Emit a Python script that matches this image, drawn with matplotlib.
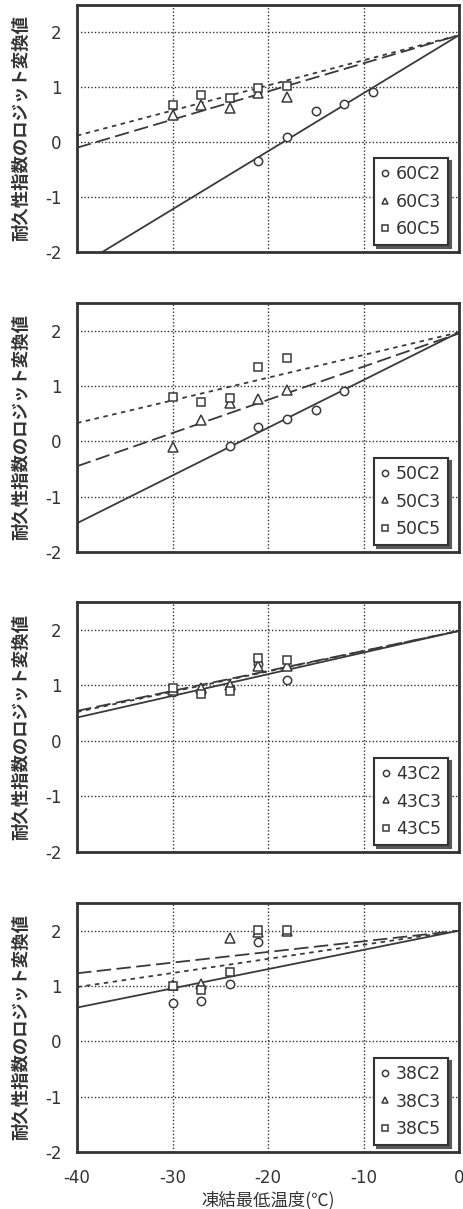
import numpy as np
import matplotlib
matplotlib.use("Agg")
import matplotlib.pyplot as plt

plt.rcParams['font.family'] = ['Noto Sans CJK JP', 'DejaVu Sans']
plt.rcParams['axes.unicode_minus'] = False

# panel order: top to bottom
groups = ['60', '50', '43', '38']

# measured points (x = freezing min temp, y = logit of durability index)
c2_x = {'60': [-21, -18, -15, -12, -9],
        '50': [-24, -21, -18, -15, -12],
        '43': [-30, -27, -24, -21, -18],
        '38': [-30, -27, -24, -21]}
c2_y = {'60': [-0.35, 0.1, 0.57, 0.69, 0.92],
        '50': [-0.09, 0.26, 0.41, 0.56, 0.91],
        '43': [0.88, 0.88, 0.95, 1.38, 1.1],
        '38': [0.7, 0.72, 1.03, 1.8]}

c3_x = {'60': [-30, -27, -24, -21, -18],
        '50': [-30, -27, -24, -21, -18],
        '43': [-30, -27, -24, -21, -18],
        '38': [-30, -27, -24, -21, -18]}
c3_y = {'60': [0.49, 0.67, 0.63, 0.89, 0.83],
        '50': [-0.11, 0.39, 0.69, 0.76, 0.93],
        '43': [0.92, 0.95, 1.0, 1.35, 1.35],
        '38': [1.02, 1.03, 1.87, 1.97, 2.0]}

c5_x = {'60': [-30, -27, -24, -21, -18],
        '50': [-30, -27, -24, -21, -18],
        '43': [-30, -27, -24, -21, -18],
        '38': [-30, -27, -24, -21, -18]}
c5_y = {'60': [0.67, 0.86, 0.8, 0.98, 1.02],
        '50': [0.81, 0.71, 0.78, 1.35, 1.51],
        '43': [0.95, 0.85, 0.9, 1.5, 1.46],
        '38': [1.0, 0.93, 1.25, 2.02, 2.02]}

# regression lines: value at x=-40 and at x=0
line_x = [-40, 0]
c2_line = {'60': [-2.28, 1.95], '50': [-1.48, 1.97], '43': [0.42, 1.98], '38': [0.61, 2.0]}
c3_line = {'60': [-0.1, 1.95], '50': [-0.45, 1.95], '43': [0.54, 1.98], '38': [1.23, 2.0]}
c5_line = {'60': [0.12, 1.95], '50': [0.33, 1.97], '43': [0.52, 1.98], '38': [0.98, 2.0]}

xticks = [-40, -30, -20, -10, 0]
yticks = [-2, -1, 0, 1, 2]

fig = plt.figure(figsize=(4.63, 12.09), dpi=100)
left, width = 77 / 463, 382 / 463
tops = [5, 303, 602, 903]
bottoms = [252, 552, 852, 1152]

ink = '#3a3a3a'
for i, g in enumerate(groups):
    b = 1 - bottoms[i] / 1209
    h = (bottoms[i] - tops[i]) / 1209
    ax = fig.add_axes([left, b, width, h])

    ax.plot(line_x, c2_line[g], '-', color=ink, lw=1.3, zorder=2)
    ax.plot(line_x, c3_line[g], color=ink, lw=1.3, dashes=(8, 3), zorder=2)
    ax.plot(line_x, c5_line[g], color=ink, lw=1.3, dashes=(2.5, 2.5), zorder=2)

    ax.plot(c2_x[g], c2_y[g], 'o', ls='none', mfc='white', mec=ink, mew=1.1, ms=6,
            label=g + 'C2', zorder=3)
    ax.plot(c3_x[g], c3_y[g], '^', ls='none', mfc='white', mec=ink, mew=1.1, ms=6.5,
            label=g + 'C3', zorder=3)
    ax.plot(c5_x[g], c5_y[g], 's', ls='none', mfc='white', mec=ink, mew=1.1, ms=6,
            label=g + 'C5', zorder=3)

    ax.set_xlim(-40, 0)
    ax.set_ylim(-2, 2.5)
    ax.set_xticks(xticks)
    ax.set_yticks(yticks)
    ax.grid(True, color='#333333', ls=(0, (1, 1.5)), lw=1.0)
    ax.tick_params(length=0, labelsize=12, colors='#333333', pad=11)
    for lab in ax.get_xticklabels() + ax.get_yticklabels():
        lab.set_family('DejaVu Sans')
    for s in ax.spines.values():
        s.set_linewidth(2.0)
        s.set_color('#333333')
    if i < 3:
        ax.set_xticklabels([])
    else:
        ax.set_xticklabels([str(t) for t in xticks], family='DejaVu Sans')
        ax.tick_params(axis='x', pad=12)
        ax.set_xlabel('凍結最低温度(℃)', fontsize=12.5, color='#333333', labelpad=3)
    ax.set_ylabel('耐久性指数のロジット変換値', fontsize=12.5, fontweight='bold',
                  color='#333333', labelpad=11)

    leg = ax.legend(loc='lower right', bbox_to_anchor=(0.971, 0.028), borderaxespad=0,
                    prop={'family': 'DejaVu Sans', 'size': 12.5},
                    handlelength=0.5, handletextpad=0.35, labelspacing=0.55,
                    borderpad=0.4, fancybox=False, framealpha=1,
                    markerscale=0.75, shadow={'color': '0.35', 'alpha': 1})
    leg.get_frame().set_edgecolor('#333333')
    leg.get_frame().set_linewidth(1.5)
    for t in leg.get_texts():
        t.set_color('#333333')

fig.savefig('out.png', dpi=100)
